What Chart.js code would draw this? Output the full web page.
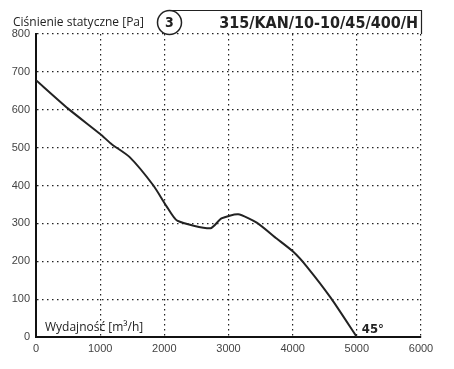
<!DOCTYPE html>
<html>
<head>
<meta charset="utf-8">
<script src="https://cdn.jsdelivr.net/npm/chart.js@4/dist/chart.umd.min.js"></script>
<style>
  html, body { margin: 0; padding: 0; background: #fff; }
  #wrap { width: 454px; height: 369px; }
</style>
</head>
<body>
<div id="wrap"><canvas id="fan-chart" width="454" height="369"></canvas></div>
<script>
// curve
var flow = [0, 500, 1000, 1180, 1460, 1830, 2035, 2200, 2720, 2890, 3150, 3440, 3750, 4010, 4220, 4600, 5000];
var pressure = [678, 603, 536, 509, 475, 400, 345, 307, 287, 313, 324, 302, 260, 225, 186, 102, 0];

var yLabel = 'Ciśnienie statyczne [Pa]';
var xLabel = 'Wydajność [m³/h]';
var curveNo = '3';
var modelName = '315/KAN/10-10/45/400/H';
var angleLabel = '45°';

var points = flow.map(function (f, i) { return {x: f, y: pressure[i]}; });

var textPlugin = {
    id: 'texts',
    afterDraw: function (chart) {
        var c = chart.ctx;
        var area = chart.chartArea;
        var xs = chart.scales.x, ys = chart.scales.y;
        c.save();
        c.fillStyle = '#222';
        c.font = '12px "Open Sans", "DejaVu Sans", sans-serif';
        c.textBaseline = 'alphabetic';
        c.textAlign = 'left';
        c.fillText(yLabel, 13, 26);
        c.fillText(xLabel, 45, 331);

        // box with model name
        c.strokeStyle = '#222';
        c.lineWidth = 1.2;
        c.beginPath();
        c.moveTo(169, 10.5);
        c.lineTo(area.right + 0.5, 10.5);
        c.lineTo(area.right + 0.5, area.top);
        c.stroke();
        c.fillStyle = '#fff';
        c.beginPath();
        c.arc(169.5, 22.5, 12, 0, Math.PI * 2);
        c.fill();
        c.lineWidth = 1.5;
        c.stroke();
        c.fillStyle = '#222';
        c.font = 'bold 14px "DejaVu Sans Condensed", "DejaVu Sans", sans-serif';
        c.textAlign = 'center';
        c.textBaseline = 'middle';
        c.fillText(curveNo, 169.5, 23);
        c.font = 'bold 16px "DejaVu Sans Condensed", "DejaVu Sans", sans-serif';
        c.textAlign = 'right';
        c.textBaseline = 'alphabetic';
        c.fillText(modelName, area.right - 3, 28);

        c.font = 'bold 13px "DejaVu Sans Condensed", "DejaVu Sans", sans-serif';
        c.textAlign = 'left';
        c.fillText(angleLabel, xs.getPixelForValue(5000) + 5, ys.getPixelForValue(0) - 4);
        c.restore();
    }
};

var ctx = document.getElementById('fan-chart').getContext('2d');
var fanChart = new Chart(ctx, {
    type: 'line',
    data: {
        datasets: [
            {
                data: points,
                borderColor: '#222',
                borderWidth: 2,
                pointRadius: 0,
                tension: 0.2,
                fill: false
            }
        ]
    },
    options: {
        responsive: false,
        animation: false,
        layout: {
            padding: {top: 34, right: 33, left: 0, bottom: 0}
        },
        plugins: {
            legend: {display: false},
            tooltip: {enabled: false}
        },
        scales: {
            x: {
                type: 'linear',
                min: 0,
                max: 6000,
                afterFit: function (scale) { scale.height = 32; },
                ticks: {
                    stepSize: 1000,
                    color: '#444',
                    padding: 5,
                    maxRotation: 0,
                    callback: function (v) { return String(v); },
                    font: {family: 'Arial, "Liberation Sans", sans-serif', size: 11}
                },
                grid: {color: '#222', lineWidth: 1.2, drawTicks: false},
                border: {display: true, color: '#111', width: 2, dash: [1.5, 3.5]}
            },
            y: {
                min: 0,
                max: 800,
                afterFit: function (scale) { scale.width = 36; },
                ticks: {
                    stepSize: 100,
                    color: '#444',
                    padding: 6,
                    font: {family: 'Arial, "Liberation Sans", sans-serif', size: 11}
                },
                grid: {color: '#222', lineWidth: 1.2, drawTicks: false},
                border: {display: true, color: '#111', width: 2, dash: [1.5, 3.5]}
            }
        }
    },
    plugins: [textPlugin]
});
</script>
</body>
</html>
